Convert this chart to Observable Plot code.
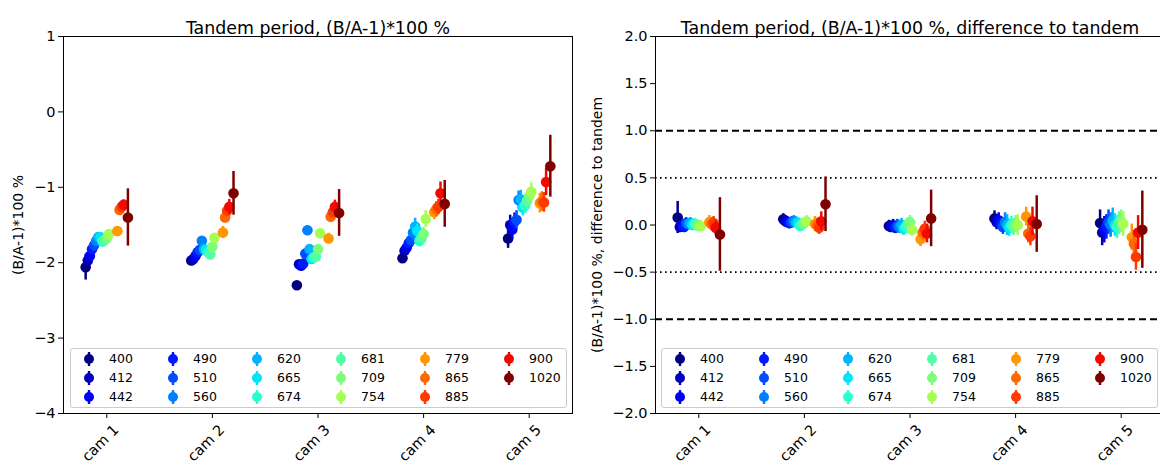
<!DOCTYPE html>
<html><head><meta charset="utf-8">
<script src="https://cdn.jsdelivr.net/npm/d3@7"></script>
<script src="https://cdn.jsdelivr.net/npm/@observablehq/plot@0.6"></script>
<style>
html,body{margin:0;padding:0;background:#fff;overflow:hidden;width:1160px;height:465px}
#wrap{position:relative;width:1160px;height:465px;overflow:hidden;font-family:"DejaVu Sans",sans-serif}
.panel{position:absolute;top:0}
.legend{position:absolute;background:rgba(255,255,255,0.8);border:1px solid #cccccc;border-radius:3px;box-sizing:border-box}
.entry{position:absolute;font-size:12.5px;line-height:14px;color:#000;white-space:nowrap}
</style></head>
<body><div id="wrap"></div>
<script>
// ---------------- data ----------------
const wavelengths = [400, 412, 442, 490, 510, 560, 620, 665, 674, 681, 709, 754, 779, 865, 885, 900, 1020];
// index of each band within the full 21-band OLCI set (761, 764, 767, 940 not shown)
const bandIndex = [0, 1, 2, 3, 4, 5, 6, 7, 8, 9, 10, 11, 15, 16, 17, 18, 20];
const cameras = ["cam 1", "cam 2", "cam 3", "cam 4", "cam 5"];

// left panel: (B/A-1)*100 %
const ratioCam1 = [-2.06, -1.97, -1.91, -1.82, -1.77, -1.71, -1.66, -1.66, -1.72, -1.70, -1.67, -1.62, -1.58, -1.30, -1.26, -1.23, -1.40];
const ratioCam2 = [-1.97, -1.95, -1.91, -1.86, -1.83, -1.71, -1.82, -1.83, -1.86, -1.89, -1.79, -1.67, -1.60, -1.40, -1.31, -1.26, -1.08];
const ratioCam3 = [-2.30, -2.02, -2.04, -2.01, -1.88, -1.57, -1.82, -1.95, -1.93, -1.92, -1.82, -1.61, -1.68, -1.39, -1.33, -1.26, -1.34];
const ratioCam4 = [-1.94, -1.84, -1.80, -1.74, -1.70, -1.60, -1.52, -1.58, -1.71, -1.68, -1.62, -1.42, -1.33, -1.29, -1.26, -1.08, -1.22];
const ratioCam5 = [-1.68, -1.50, -1.56, -1.46, -1.43, -1.17, -1.16, -1.27, -1.24, -1.18, -1.12, -1.06, -1.21, -1.19, -1.20, -0.93, -0.72];
const ratioErrCam1 = [0.17, 0.05, 0.05, 0.05, 0.05, 0.05, 0.05, 0.05, 0.05, 0.06, 0.06, 0.06, 0.06, 0.06, 0.06, 0.06, 0.38];
const ratioErrCam2 = [0.05, 0.05, 0.05, 0.05, 0.05, 0.05, 0.05, 0.05, 0.05, 0.05, 0.05, 0.05, 0.08, 0.06, 0.06, 0.10, 0.29];
const ratioErrCam3 = [0.05, 0.05, 0.05, 0.05, 0.06, 0.06, 0.06, 0.06, 0.06, 0.06, 0.06, 0.06, 0.07, 0.07, 0.07, 0.09, 0.31];
const ratioErrCam4 = [0.07, 0.07, 0.07, 0.07, 0.07, 0.10, 0.11, 0.09, 0.08, 0.08, 0.09, 0.11, 0.10, 0.10, 0.10, 0.15, 0.31];
const ratioErrCam5 = [0.13, 0.13, 0.13, 0.12, 0.12, 0.12, 0.12, 0.11, 0.11, 0.11, 0.11, 0.12, 0.13, 0.13, 0.13, 0.18, 0.41];

// right panel: difference to tandem
const diffCam1 = [0.08, -0.02, 0.00, -0.02, 0.02, 0.01, 0.02, 0.00, 0.01, 0.00, -0.01, -0.01, 0.03, 0.01, 0.02, -0.03, -0.10];
const diffCam2 = [0.06, 0.04, 0.03, 0.02, 0.03, 0.04, 0.03, 0.02, -0.01, 0.01, 0.02, 0.04, 0.01, 0.00, -0.03, 0.04, 0.22];
const diffCam3 = [-0.01, -0.02, 0.00, -0.03, -0.01, -0.02, 0.00, -0.04, -0.02, 0.01, 0.03, -0.05, -0.15, -0.08, -0.04, -0.09, 0.07];
const diffCam4 = [0.07, 0.03, 0.05, 0.01, -0.02, 0.03, 0.00, -0.03, 0.00, -0.02, 0.01, 0.00, 0.09, -0.09, -0.12, 0.04, 0.01];
const diffCam5 = [0.02, -0.08, -0.05, -0.02, 0.03, 0.00, 0.05, 0.00, -0.02, 0.02, 0.04, 0.01, -0.13, -0.20, -0.34, -0.08, -0.05];
const diffErrCam1 = [0.17, 0.06, 0.06, 0.06, 0.06, 0.06, 0.06, 0.06, 0.06, 0.06, 0.06, 0.06, 0.07, 0.07, 0.07, 0.07, 0.39];
const diffErrCam2 = [0.06, 0.06, 0.06, 0.06, 0.06, 0.06, 0.06, 0.06, 0.06, 0.06, 0.06, 0.06, 0.08, 0.07, 0.07, 0.10, 0.29];
const diffErrCam3 = [0.06, 0.06, 0.06, 0.06, 0.07, 0.07, 0.07, 0.07, 0.07, 0.07, 0.07, 0.07, 0.08, 0.08, 0.08, 0.10, 0.30];
const diffErrCam4 = [0.08, 0.08, 0.08, 0.08, 0.08, 0.10, 0.11, 0.09, 0.09, 0.09, 0.09, 0.11, 0.10, 0.10, 0.10, 0.15, 0.30];
const diffErrCam5 = [0.14, 0.14, 0.14, 0.13, 0.13, 0.13, 0.13, 0.12, 0.12, 0.12, 0.12, 0.13, 0.14, 0.14, 0.14, 0.18, 0.41];

const leftTicks = [1, 0, -1, -2, -3, -4];
const rightTicks = [2, 1.5, 1, 0.5, 0, -0.5, -1, -1.5, -2];
const refLinesDashed = [1, -1];
const refLinesDotted = [0.5, -0.5];

// ---------------- helpers ----------------
function jet(t) {
  const interp = (pts) => {
    for (let i = 1; i < pts.length; i++) {
      if (t <= pts[i][0]) {
        const [x0, y0] = pts[i - 1], [x1, y1] = pts[i];
        return y0 + (y1 - y0) * (t - x0) / (x1 - x0);
      }
    }
    return pts[pts.length - 1][1];
  };
  const r = interp([[0, 0], [0.35, 0], [0.66, 1], [0.89, 1], [1, 0.5]]);
  const g = interp([[0, 0], [0.125, 0], [0.375, 1], [0.64, 1], [0.91, 0], [1, 0]]);
  const b = interp([[0, 0.5], [0.11, 1], [0.34, 1], [0.65, 0], [1, 0]]);
  return d3.rgb(r * 255, g * 255, b * 255).formatHex();
}
const bandColor = bandIndex.map(k => jet(k / 20));

function buildRows(values, errors) {
  const rows = [];
  values.forEach((vals, c) => {
    vals.forEach((v, j) => {
      rows.push({cam: c, band: j, x: c + (bandIndex[j] - 10) * 0.02, v, e: errors[c][j], color: bandColor[j]});
    });
  });
  return rows;
}
const leftRows = buildRows([ratioCam1, ratioCam2, ratioCam3, ratioCam4, ratioCam5],
  [ratioErrCam1, ratioErrCam2, ratioErrCam3, ratioErrCam4, ratioErrCam5]);
const rightRows = buildRows([diffCam1, diffCam2, diffCam3, diffCam4, diffCam5],
  [diffErrCam1, diffErrCam2, diffErrCam3, diffErrCam4, diffErrCam5]);

function bandMarks(rows) {
  const marks = [];
  wavelengths.forEach((w, j) => {
    const sub = rows.filter(d => d.band === j);
    marks.push(Plot.ruleX(sub, {x: "x", y1: d => d.v - d.e, y2: d => d.v + d.e, stroke: d => d.color, strokeWidth: 2.5}));
    marks.push(Plot.dot(sub, {x: "x", y: "v", r: 5.3, fill: d => d.color, stroke: null}));
  });
  return marks;
}

function panel({rows, domain, ticks, fmt, title, ylabel, marginLeft, labelDx, extra, width}) {
  return Plot.plot({
    width, height: 465,
    marginLeft, marginRight: width - marginLeft - 509, marginTop: 36, marginBottom: 52,
    style: {fontFamily: "DejaVu Sans", fontSize: "14px", color: "#000", background: "transparent", overflow: "visible"},
    x: {domain: [-0.41, 4.41]},
    y: {domain},
    marks: [
      ...extra,
      ...bandMarks(rows),
      Plot.frame({stroke: "#000", strokeWidth: 1}),
      Plot.axisY({ticks, tickFormat: fmt, tickSize: 5, tickPadding: 3, label: null, fontSize: 14.5}),
      Plot.axisX({ticks: d3.range(cameras.length), tickFormat: () => "", tickSize: 5, label: null}),
      Plot.text(cameras, {x: (d, i) => i, frameAnchor: "bottom", text: d => d, rotate: -45, textAnchor: "middle", dx: -3, dy: 33, fontSize: 14.5}),
      Plot.text([title], {frameAnchor: "top", textAnchor: "middle", dy: -15, fontSize: 17.4, text: d => d}),
      Plot.text([ylabel], {frameAnchor: "left", textAnchor: "middle", rotate: -90, dx: labelDx, fontSize: 14, text: d => d})
    ]
  });
}

const wrap = document.getElementById("wrap");

const left = panel({
  rows: leftRows, domain: [-4, 1], ticks: leftTicks, fmt: d3.format("d"),
  title: "Tandem period, (B/A-1)*100 %", ylabel: "(B/A-1)*100 %",
  marginLeft: 63, labelDx: -45, extra: [], width: 580
});
left.classList.add("panel");
left.style.left = "0px";
wrap.appendChild(left);

const right = panel({
  rows: rightRows, domain: [-2, 2], ticks: rightTicks, fmt: d3.format(".1f"),
  title: "Tandem period, (B/A-1)*100 %, difference to tandem", ylabel: "(B/A-1)*100 %, difference to tandem",
  marginLeft: 75, labelDx: -58, width: 592,
  extra: [
    Plot.ruleY(refLinesDashed, {y: d => d, stroke: "#000", strokeWidth: 2, strokeDasharray: "7,4"}),
    Plot.ruleY(refLinesDotted, {y: d => d, stroke: "#000", strokeWidth: 1.6, strokeDasharray: "1.6,3.4"})
  ]
});
right.classList.add("panel");
right.style.left = "580px";
wrap.appendChild(right);

// ---------------- legends ----------------
function legend(leftPx) {
  const box = document.createElement("div");
  box.className = "legend";
  Object.assign(box.style, {left: leftPx + "px", top: "348px", width: "497px", height: "60px"});
  wavelengths.forEach((w, j) => {
    const col = Math.floor(j / 3), row = j % 3;
    const e = document.createElement("div");
    e.className = "entry";
    Object.assign(e.style, {left: (10 + col * 84) + "px", top: (2 + row * 19) + "px"});
    e.innerHTML = `<svg width="16" height="16" style="vertical-align:middle"><line x1="8" x2="8" y1="1" y2="15" stroke="${bandColor[j]}" stroke-width="2.4"/><circle cx="8" cy="8" r="5" fill="${bandColor[j]}"/></svg><span style="position:absolute;left:28px;top:1px">${w}</span>`;
    box.appendChild(e);
  });
  wrap.appendChild(box);
}
legend(70);
legend(661);
</script>
</body></html>
